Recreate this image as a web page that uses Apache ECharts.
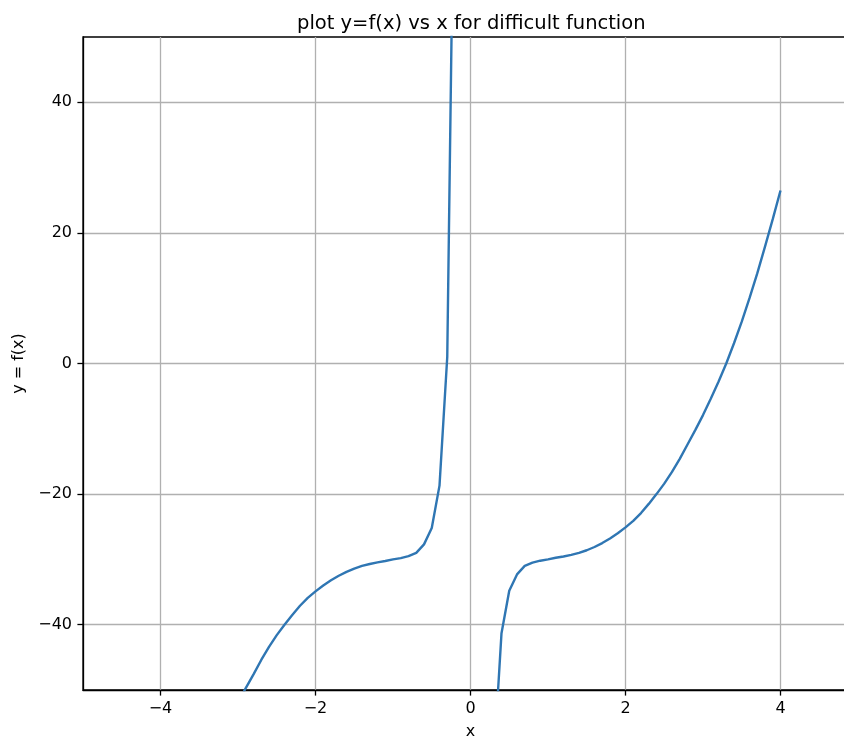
<!DOCTYPE html>
<html>
<head>
<meta charset="utf-8">
<script src="https://cdn.jsdelivr.net/npm/echarts@6/dist/echarts.min.js"></script>
<style>
  html, body { margin: 0; padding: 0; background: #ffffff; overflow: hidden; }
  #chart { width: 844px; height: 737px; }
</style>
</head>
<body>
<div id="chart"></div>
<script>
// left branch (before the pole)
const xLeft = [-3.0, -2.9, -2.8, -2.7, -2.6, -2.5, -2.4, -2.3, -2.2, -2.1, -2.0,
  -1.9, -1.8, -1.7, -1.6, -1.5, -1.4, -1.3, -1.2, -1.1, -1.0,
  -0.9, -0.8, -0.7, -0.6, -0.5, -0.4, -0.3, -0.2];
const yLeft = [-52.0, -49.7, -47.6, -45.4, -43.4, -41.6, -40.0, -38.5, -37.1, -35.9, -34.9,
  -34.0, -33.2, -32.5, -31.9, -31.4, -31.0, -30.7, -30.45, -30.25, -30.0,
  -29.8, -29.5, -29.0, -27.7, -25.2, -18.7, 1.0, 90.0];

// right branch (after the pole)
const xRight = [0.3, 0.4, 0.5, 0.6, 0.7, 0.8, 0.9, 1.0, 1.1, 1.2, 1.3, 1.4, 1.5,
  1.6, 1.7, 1.8, 1.9, 2.0, 2.1, 2.2, 2.3, 2.4, 2.5, 2.6, 2.7, 2.8, 2.9,
  3.0, 3.1, 3.2, 3.3, 3.4, 3.5, 3.6, 3.7, 3.8, 3.9, 4.0];
const yRight = [-61.0, -41.3, -34.8, -32.3, -31.0, -30.5, -30.2, -30.0, -29.75, -29.55, -29.3, -29.0, -28.6,
  -28.1, -27.5, -26.8, -26.0, -25.1, -24.1, -22.9, -21.5, -20.0, -18.4, -16.6, -14.6, -12.4, -10.2,
  -7.9, -5.4, -2.8, 0.0, 3.1, 6.4, 10.0, 13.8, 17.9, 22.1, 26.5];

const xTicks = [-4, -2, 0, 2, 4];
const yTicks = [-40, -20, 0, 20, 40];

const chart = echarts.init(document.getElementById('chart'));

const font = '"DejaVu Sans", sans-serif';
const lineColor = '#2f76b3';
const minus = v => String(v).replace('-', '\u2212');

const branch = (xs, ys) => xs.map((x, i) => [x, ys[i]]);

// the axes run past the right edge of the picture (xlim -5..5, cropped)
const option = {
  backgroundColor: '#ffffff',
  animation: false,
  textStyle: { fontFamily: font },
  title: {
    text: 'plot y=f(x) vs x for difficult function',
    left: 292,
    top: 9,
    textStyle: { fontFamily: font, fontSize: 19.5, fontWeight: 'normal', color: '#000' }
  },
  grid: {
    left: 83, width: 775, top: 37, bottom: 47,
    outerBoundsMode: 'none',
    show: true, borderColor: '#000', borderWidth: 1.3, backgroundColor: 'transparent'
  },
  xAxis: {
    type: 'value',
    min: -5, max: 5,
    name: 'x',
    nameLocation: 'middle',
    nameGap: 34,
    nameTextStyle: { fontFamily: font, fontSize: 16, color: '#000' },
    axisLine: { show: true, onZero: false, lineStyle: { color: '#000', width: 1.3 } },
    axisTick: { show: true, length: 5.6, customValues: xTicks, lineStyle: { color: '#000', width: 1.3 } },
    axisLabel: { customValues: xTicks, margin: 11, fontFamily: font, fontSize: 16, color: '#000', formatter: minus },
    splitLine: { show: true, lineStyle: { color: '#b0b0b0', width: 1.3 } }
  },
  yAxis: {
    type: 'value',
    min: -50, max: 50,
    name: 'y = f(x)',
    nameLocation: 'middle',
    nameRotate: 90,
    nameGap: 46,
    nameTextStyle: { fontFamily: font, fontSize: 16, color: '#000' },
    axisLine: { show: true, onZero: false, lineStyle: { color: '#000', width: 1.3 } },
    axisTick: { show: true, length: 5.6, customValues: yTicks, lineStyle: { color: '#000', width: 1.3 } },
    axisLabel: { customValues: yTicks, margin: 11, fontFamily: font, fontSize: 16, color: '#000', formatter: minus },
    splitLine: { show: true, lineStyle: { color: '#b0b0b0', width: 1.3 } }
  },
  series: [
    {
      type: 'line',
      data: branch(xLeft, yLeft),
      showSymbol: false,
      clip: true,
      lineStyle: { color: lineColor, width: 2.4 }
    },
    {
      type: 'line',
      data: branch(xRight, yRight),
      showSymbol: false,
      clip: true,
      lineStyle: { color: lineColor, width: 2.4 }
    }
  ]
};

chart.setOption(option);
</script>
</body>
</html>
